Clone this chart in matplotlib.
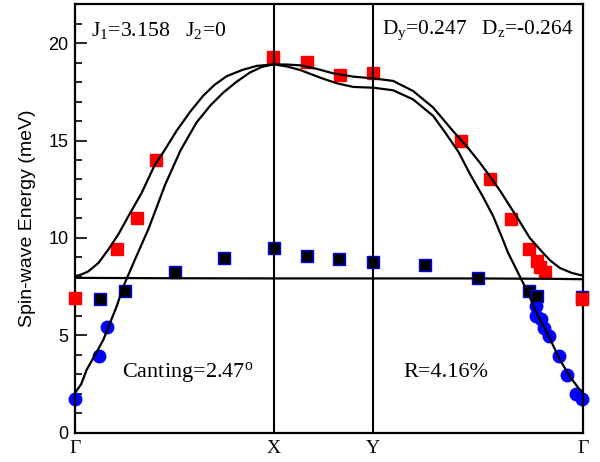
import numpy as np
import matplotlib
matplotlib.use('Agg')
import matplotlib.pyplot as plt

plt.rcParams['font.family'] = ['Liberation Sans', 'DejaVu Sans']
plt.rcParams['mathtext.fontset'] = 'custom'
plt.rcParams['mathtext.rm'] = 'Liberation Serif'
plt.rcParams['mathtext.it'] = 'Liberation Serif:italic'

# high symmetry points along the path
kpos = [0.0, 1.0, 1.5, 2.554]
klabels = ['Γ', 'X', 'Y', 'Γ']

# calculated dispersion
upper_x = [0, 0.03, 0.065, 0.116, 0.166, 0.216, 0.267, 0.334, 0.40, 0.443, 0.51, 0.58, 0.644, 0.70,
           0.762, 0.84, 0.913, 1.0, 1.066, 1.132, 1.215, 1.298, 1.399, 1.5, 1.6, 1.701, 1.802,
           1.902, 1.97, 2.03, 2.087, 2.14, 2.188, 2.221, 2.288, 2.355, 2.39, 2.439, 2.50, 2.54, 2.554]
upper_y = [8.03, 8.12, 8.28, 8.71, 9.4, 10.17, 11.11, 12.31, 13.75, 14.4, 15.5, 16.5, 17.3, 17.85,
           18.3, 18.62, 18.83, 18.91, 18.9, 18.86, 18.68, 18.45, 18.28, 18.19, 18.06, 17.54, 16.69,
           15.48, 14.71, 13.95, 13.17, 12.4, 11.63, 11.11, 10.0, 9.23, 8.85, 8.46, 8.2, 8.1, 8.08]

lower_x = [0, 0.03, 0.057, 0.1, 0.141, 0.208, 0.242, 0.3, 0.367, 0.418, 0.451, 0.53, 0.61, 0.68,
           0.745, 0.81, 0.879, 0.94, 1.0, 1.066, 1.132, 1.232, 1.316, 1.4, 1.5, 1.6, 1.701, 1.802,
           1.869, 1.93, 1.986, 2.053, 2.104, 2.146, 2.179, 2.213, 2.238, 2.272, 2.322, 2.372,
           2.44, 2.49, 2.54, 2.554]
lower_y = [2.06, 2.5, 3.23, 4.0, 4.77, 6.48, 7.51, 8.88, 10.43, 11.8, 12.7, 14.5, 15.92, 16.8,
           17.46, 18.0, 18.49, 18.78, 18.91, 18.8, 18.62, 18.23, 17.94, 17.75, 17.71, 17.58, 17.11, 16.26,
           15.31, 14.4, 13.3, 12.1, 11.11, 10.08, 9.23, 8.54, 8.02, 7.34, 6.14, 5.2,
           3.74, 2.88, 2.2, 2.11]

flat_x = [0, 0.5, 1.0, 1.5, 2.0, 2.4, 2.554]
flat_y = [7.95, 7.93, 7.92, 7.92, 7.92, 7.9, 7.88]

# measured points
red_x = [0, 0.211, 0.309, 0.406, 0.997, 1.165, 1.332, 1.5, 1.94, 2.087, 2.194, 2.285, 2.322,
         2.342, 2.364, 2.549]
red_y = [6.93, 9.45, 11.0, 14.0, 19.3, 19.03, 18.35, 18.49, 14.99, 13.0, 10.98, 9.43, 8.8,
         8.51, 8.23, 6.86]

blk_x = [0.124, 0.249, 0.5, 0.748, 1.0, 1.165, 1.329, 1.5, 1.762, 2.027, 2.285, 2.322, 2.549]
blk_y = [6.86, 7.29, 8.25, 8.99, 9.48, 9.06, 8.92, 8.75, 8.59, 7.94, 7.3, 7.0, 6.95]

blue_x = [0, 0.118, 0.161, 2.318, 2.318, 2.347, 2.359, 2.386, 2.433, 2.473, 2.523, 2.549]
blue_y = [1.72, 3.95, 5.45, 6.48, 5.97, 5.83, 5.37, 4.97, 3.95, 2.97, 1.99, 1.72]

fig = plt.figure(figsize=(6, 4.62), dpi=100)
ax = fig.add_axes([0.1255, 0.0634, 0.8455, 0.9276])

ax.plot(blue_x, blue_y, 'o', color='#0000ff', ms=9, mec='#0000ff', clip_on=False, zorder=2)
ax.plot(blk_x, blk_y, 's', color='black', ms=8, mec='#0000ff', mew=1, clip_on=False, zorder=3)
ax.plot(red_x, red_y, 's', color='#ff0000', ms=8, mec='#ff0000', clip_on=False, zorder=4)

ax.plot(upper_x, upper_y, 'k-', lw=1.6, zorder=5)
ax.plot(lower_x, lower_y, 'k-', lw=1.6, zorder=5)
ax.plot(flat_x, flat_y, 'k-', lw=1.6, zorder=5)
for k in kpos[1:3]:
    ax.axvline(k, color='black', lw=1.5, zorder=5)

ax.set_xlim(kpos[0], kpos[-1])
ax.set_ylim(0, 22)
ax.set_xticks(kpos)
ax.set_xticklabels(klabels, fontfamily='Liberation Serif', fontsize=14)
ax.set_yticks([0, 5, 10, 15, 20])
ax.set_yticks(np.arange(0, 23, 1), minor=True)
ax.tick_params(axis='x', length=0, pad=5)
ax.tick_params(axis='y', which='major', direction='in', length=8.5, width=1.2, labelsize=13, pad=5)
ax.tick_params(axis='y', which='minor', direction='in', length=5, width=1.2)
for s in ax.spines.values():
    s.set_linewidth(1.6)

ax.set_ylabel('Spin-wave Energy (meV)', fontsize=14, labelpad=9)

serif = 'Liberation Serif'
ax.text(0.079, 20.37, 'J$_1$=3.158   J$_2$=0', fontsize=15.7, va='baseline', fontfamily=serif)
ax.text(1.545, 20.46, 'D$_\\mathrm{y}$=0.247   D$_\\mathrm{z}$=-0.264', fontsize=15.4, va='baseline',
        fontfamily=serif)
ax.text(0.234, 2.88, 'Canting=2.47$^\\mathrm{o}$', fontsize=16, va='baseline', fontfamily=serif)
ax.text(1.651, 2.88, 'R=4.16%', fontsize=16, va='baseline', fontfamily=serif)

fig.savefig('out.png', dpi=100)
